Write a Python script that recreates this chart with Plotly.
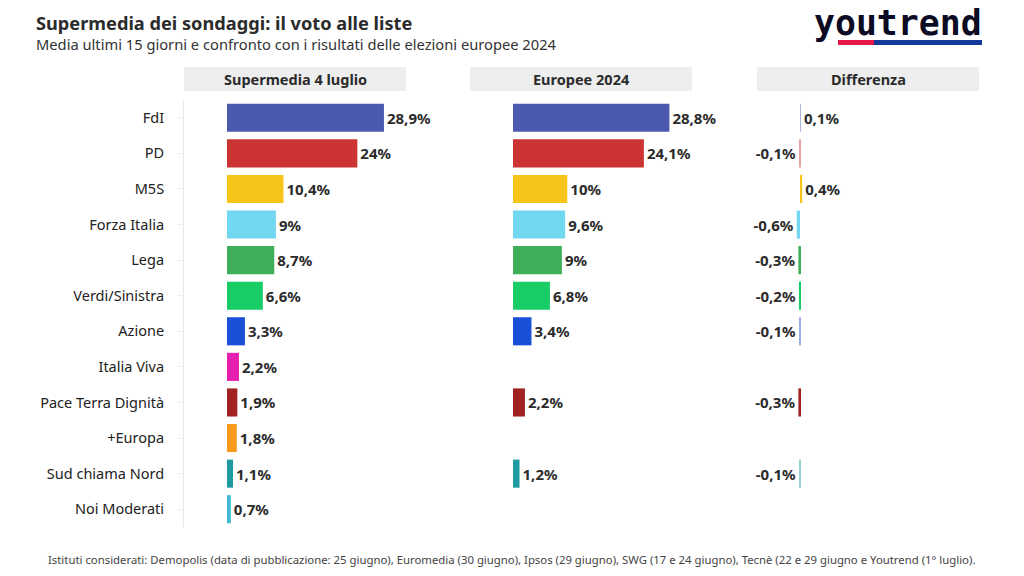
#!/usr/bin/env python3
# -*- coding: utf-8 -*-
"""Supermedia dei sondaggi: barre per lista, tre pannelli affiancati."""
import plotly.graph_objects as go

W, H = 1024, 576
FONT = "Noto Sans"
DARK = "#2b2b2b"

liste = ["FdI", "PD", "M5S", "Forza Italia", "Lega", "Verdi/Sinistra", "Azione",
         "Italia Viva", "Pace Terra Dignità", "+Europa", "Sud chiama Nord", "Noi Moderati"]
supermedia = [28.9, 24, 10.4, 9, 8.7, 6.6, 3.3, 2.2, 1.9, 1.8, 1.1, 0.7]
europee = [28.8, 24.1, 10, 9.6, 9, 6.8, 3.4, None, 2.2, None, 1.2, None]
differenza = [0.1, -0.1, 0.4, -0.6, -0.3, -0.2, -0.1, None, -0.3, None, -0.1, None]
colori = ["#4b5aaf", "#cc3333", "#f7c519", "#72d7f0", "#3fae58", "#18cc66", "#1a4fd8",
          "#e61fb0", "#a02222", "#f99a1c", "#1f9aa0", "#3fb8d4"]
titoli = ["Supermedia 4 luglio", "Europee 2024", "Differenza"]
pannelli = [(184, 406), (470, 692), (757, 979)]  # pixel


def etichetta(v):
    return "" if v is None else f"{v:g}%".replace(".", ",")


def px(x):
    return x / W


def py(y):
    return 1 - y / H


def testo(x, y, t, size, color=DARK, anchor="left", family=FONT):
    fig.add_annotation(xref="paper", yref="paper", x=px(x), y=py(y), xanchor=anchor, yanchor="middle",
                       showarrow=False, text=t, font=dict(family=family, size=size, color=color))


fig = go.Figure()
for k, serie in enumerate([supermedia, europee, differenza]):
    fig.add_trace(go.Bar(
        x=serie, y=liste, orientation="h", xaxis=f"x{k + 1}", yaxis=f"y{k + 1}",
        marker=dict(color=colori, line=dict(width=0),
                    # le barre da 0,1 sono piu' sottili di un pixel: nel riferimento risultano sbiadite
                    opacity=[0.45 if v is not None and abs(v) < 0.15 else 1 for v in serie]),
        text=[etichetta(v) for v in serie], textposition="outside", cliponaxis=False,
        textfont=dict(family=FONT, size=15, color=DARK, weight=700),
        hoverinfo="skip", showlegend=False))

layout = dict(
    width=W, height=H, margin=dict(l=0, r=0, t=0, b=0),
    paper_bgcolor="white", plot_bgcolor="white",
    font=dict(family=FONT, color=DARK), bargap=0.21,
)
for k, (a, b) in enumerate(pannelli):
    sx = "" if k == 0 else str(k + 1)
    layout[f"xaxis{sx}"] = dict(domain=[px(a), px(b)], range=[-7.92, 32.96], visible=False,
                                anchor=f"y{sx}")
    layout[f"yaxis{sx}"] = dict(domain=[py(527), py(100)], autorange="reversed", anchor=f"x{sx}",
                                showgrid=False, zeroline=False,
                                showline=k == 0, linecolor="#e8e8e8", linewidth=1,
                                ticks="outside" if k == 0 else "", ticklen=6, tickcolor="#eeeeee",
                                ticklabelstandoff=10,
                                showticklabels=k == 0, tickfont=dict(size=14.5, color="#222222"))
fig.update_layout(**layout)

# intestazioni dei pannelli
for (a, b), t in zip(pannelli, titoli):
    fig.add_shape(type="rect", xref="paper", yref="paper", x0=px(a), x1=px(b), y0=py(91), y1=py(67),
                  fillcolor="#eeeeee", line_width=0, layer="below")
    testo((a + b) / 2, 78.5, f"<b>{t}</b>", 14.5, anchor="center")

# titolo, sottotitolo, nota
testo(34, 23, "<b>Supermedia dei sondaggi: il voto alle liste</b>", 18.2)
testo(34, 44, "Media ultimi 15 giorni e confronto con i risultati delle elezioni europee 2024", 14.7, "#333333")
testo(46, 559, "Istituti considerati: Demopolis (data di pubblicazione: 25 giugno), Euromedia (30 giugno), "
               "Ipsos (29 giugno), SWG (17 e 24 giugno), Tecnè (22 e 29 giugno e Youtrend (1° luglio).",
      11.35, "#444444")

# logo
testo(984, 23, "<b>youtrend</b>", 34.8, "#0b0b24", anchor="right", family="DejaVu Sans Mono")
fig.add_shape(type="rect", xref="paper", yref="paper", x0=px(838), x1=px(874), y0=py(45), y1=py(40),
              fillcolor="#e8174a", line_width=0)
fig.add_shape(type="rect", xref="paper", yref="paper", x0=px(874), x1=px(982), y0=py(45), y1=py(40),
              fillcolor="#123a9c", line_width=0)

fig.write_html("out.html", config=dict(displayModeBar=False),
               post_script="document.body.style.margin='0';")
